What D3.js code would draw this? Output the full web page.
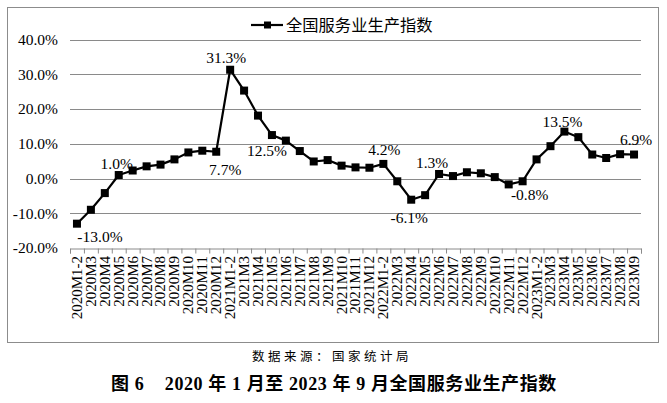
<!DOCTYPE html>
<html>
<head>
<meta charset="utf-8">
<script src="https://cdn.jsdelivr.net/npm/d3@7"></script>
<style>
  body { margin: 0; background: #fff; }
  svg text { fill: #000; }
</style>
</head>
<body>
<div id="chart"></div>
<script>
// categories (months) and index values, % yoy
var months = ["2020M1-2", "2020M3", "2020M4", "2020M5", "2020M6", "2020M7", "2020M8", "2020M9", "2020M10", "2020M11", "2020M12",
  "2021M1-2", "2021M3", "2021M4", "2021M5", "2021M6", "2021M7", "2021M8", "2021M9", "2021M10", "2021M11", "2021M12",
  "2022M1-2", "2022M3", "2022M4", "2022M5", "2022M6", "2022M7", "2022M8", "2022M9", "2022M10", "2022M11", "2022M12",
  "2023M1-2", "2023M3", "2023M4", "2023M5", "2023M6", "2023M7", "2023M8", "2023M9"];

var values = [-13.0, -9.0, -4.2, 1.0, 2.3, 3.5, 4.0, 5.5, 7.5, 8.0, 7.7,
  31.3, 25.3, 18.1, 12.5, 10.9, 7.9, 4.9, 5.3, 3.7, 3.2, 3.1,
  4.2, -0.8, -6.1, -4.8, 1.3, 0.7, 1.8, 1.5, 0.4, -1.7, -0.8,
  5.5, 9.3, 13.5, 11.9, 6.9, 5.9, 7.0, 6.9];

var yTicks = [-20, -10, 0, 10, 20, 30, 40];

var seriesName = "全国服务业生产指数";
var sourceText = "数据来源：国家统计局";
var titleText = "图 6\u00a0\u00a0\u00a0\u00a02020 年 1 月至 2023 年 9 月全国服务业生产指数";

// which points get a value label
var labelled = ["2020M1-2", "2020M5", "2020M12", "2021M1-2", "2021M5", "2022M1-2", "2022M4", "2022M6", "2022M12", "2023M4", "2023M9"];

// label placement: [dx, dy] from the point
var labelOffset = {
  "2020M1-2": [23, 18], "2020M5": [-2, -6], "2020M12": [9, 23], "2021M1-2": [-4, -7],
  "2021M5": [-5, 21], "2022M1-2": [1, -9], "2022M4": [-2, 23], "2022M6": [-7, -6],
  "2022M12": [7, 19], "2023M4": [-2, -5], "2023M9": [2, -10]
};

var svgWidth = 667;
var svgHeight = 403;

var svg = d3.select("#chart")
  .append("svg")
  .attr("width", svgWidth)
  .attr("height", svgHeight);

var plot = { left: 70, right: 641, top: 39.5, bottom: 248 };

// chart border
svg.append("rect")
  .attr("x", 7.5).attr("y", 7.5)
  .attr("width", 651).attr("height", 335)
  .attr("fill", "none")
  .attr("stroke", "#8c8c8c");

var xBand = d3.scaleBand()
  .domain(months)
  .range([plot.left, plot.right]);

var xIndex = d3.scaleLinear()
  .domain([0, months.length])
  .range([plot.left, plot.right]);

var yScale = d3.scaleLinear()
  .domain([-20, 40])
  .range([plot.bottom, plot.top]);

// gridlines
svg.append("g")
  .selectAll("line")
  .data(yTicks.filter(d => d > -20))
  .enter()
  .append("line")
  .attr("x1", plot.left).attr("x2", plot.right)
  .attr("y1", d => Math.round(yScale(d)) + 0.5)
  .attr("y2", d => Math.round(yScale(d)) + 0.5)
  .attr("stroke", "#8a8a8a")
  .attr("stroke-width", 1);

// y axis labels
var leftAxis = d3.axisLeft(yScale)
  .tickValues(yTicks)
  .tickSize(0)
  .tickPadding(12)
  .tickFormat(d => d.toFixed(1) + "%");

var yAxis = svg.append("g")
  .attr("transform", `translate(${plot.left}, 0)`)
  .call(leftAxis);
yAxis.select(".domain").remove();
yAxis.selectAll("text")
  .attr("font-family", "Liberation Serif, serif")
  .attr("font-size", "15.5px")
  .attr("fill", "#000");

// x axis: ticks at category boundaries
var tickAxis = d3.axisBottom(xIndex)
  .tickValues(d3.range(months.length + 1))
  .tickSize(5)
  .tickFormat("");

var xTicks = svg.append("g")
  .attr("transform", `translate(0, ${Math.round(plot.bottom) + 0.5})`)
  .call(tickAxis);
xTicks.selectAll("path, line").attr("stroke", "#8a8a8a");

var bottomAxis = d3.axisBottom(xBand).tickSize(0);
var xAxis = svg.append("g")
  .attr("transform", `translate(0, ${plot.bottom})`)
  .call(bottomAxis);
xAxis.select(".domain").remove();
xAxis.selectAll("text")
  .attr("font-family", "Liberation Serif, serif")
  .attr("font-size", "15px")
  .attr("fill", "#000")
  .attr("transform", "rotate(-90)")
  .attr("text-anchor", "end")
  .attr("x", -8)
  .attr("y", 0)
  .attr("dy", "0.33em");

var cx = d => xBand(d) + xBand.bandwidth() / 2;

// series line
var line = d3.line()
  .x((d, i) => cx(months[i]))
  .y(d => yScale(d));

svg.append("path")
  .datum(values)
  .attr("d", line)
  .attr("fill", "none")
  .attr("stroke", "#000")
  .attr("stroke-width", 2.2)
  .attr("stroke-linejoin", "round");

// square markers
svg.append("g")
  .selectAll("rect")
  .data(values)
  .enter()
  .append("rect")
  .attr("x", (d, i) => cx(months[i]) - 4)
  .attr("y", d => yScale(d) - 4)
  .attr("width", 8)
  .attr("height", 8)
  .attr("fill", "#000");

// value labels
svg.append("g")
  .selectAll("text")
  .data(labelled)
  .enter()
  .append("text")
  .attr("x", d => cx(d) + labelOffset[d][0])
  .attr("y", d => yScale(values[months.indexOf(d)]) + labelOffset[d][1])
  .attr("text-anchor", "middle")
  .attr("font-family", "Liberation Serif, serif")
  .attr("font-size", "15.5px")
  .text(d => values[months.indexOf(d)].toFixed(1) + "%");

// legend
var legend = svg.append("g").attr("transform", "translate(251, 25)");
legend.append("line")
  .attr("x1", 0).attr("x2", 32)
  .attr("stroke", "#000").attr("stroke-width", 2.2);
legend.append("rect")
  .attr("x", 13).attr("y", -3.5)
  .attr("width", 7).attr("height", 7)
  .attr("fill", "#000");
legend.append("text")
  .attr("x", 35).attr("y", 0)
  .attr("dy", "0.36em")
  .attr("font-family", "Noto Sans CJK SC, sans-serif")
  .attr("font-size", "16.3px")
  .text(seriesName);

// source and caption
svg.append("text")
  .attr("x", 332).attr("y", 357)
  .attr("dy", "0.35em")
  .attr("text-anchor", "middle")
  .attr("font-family", "Noto Sans CJK SC, sans-serif")
  .attr("font-size", "12.5px")
  .attr("letter-spacing", "3.5px")
  .text(sourceText);

svg.append("text")
  .attr("x", 334).attr("y", 384)
  .attr("dy", "0.36em")
  .attr("text-anchor", "middle")
  .attr("font-family", "Liberation Serif, Noto Sans CJK SC, serif")
  .attr("font-weight", "bold")
  .attr("font-size", "18px")
  .attr("letter-spacing", "0.6px")
  .text(titleText);
</script>
</body>
</html>
